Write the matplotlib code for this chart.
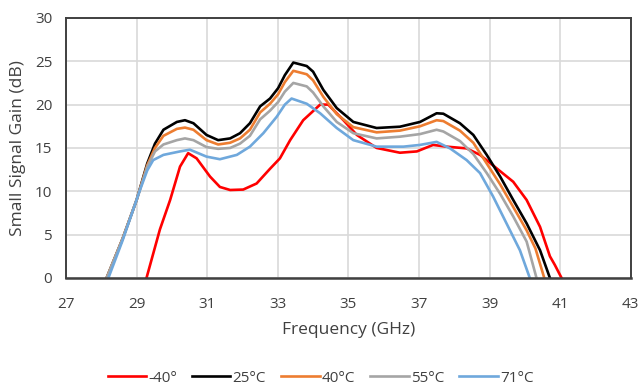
import matplotlib
matplotlib.use("Agg")
import matplotlib.pyplot as plt

f_black = [28.15, 28.6, 29.0, 29.3, 29.52, 29.76, 30.14, 30.37, 30.61, 30.98, 31.31, 31.65, 31.93, 32.21, 32.5, 32.78, 33.01, 33.2, 33.44, 33.82, 34.0, 34.29, 34.67, 35.14, 35.8, 36.46, 37.03, 37.5, 37.69, 38.16, 38.54, 38.92, 39.3, 39.67, 40.05, 40.43, 40.71]
g_black = [0.0, 4.5, 9.0, 13.2, 15.5, 17.1, 18.0, 18.2, 17.85, 16.5, 15.9, 16.1, 16.7, 17.85, 19.8, 20.7, 21.9, 23.4, 24.85, 24.45, 23.8, 21.7, 19.6, 18.0, 17.3, 17.45, 18.0, 19.0, 18.95, 17.85, 16.5, 14.2, 11.7, 9.0, 6.3, 3.2, 0.0]

f_orange = [28.15, 28.6, 29.0, 29.3, 29.52, 29.76, 30.14, 30.37, 30.61, 30.98, 31.31, 31.65, 31.93, 32.21, 32.5, 32.78, 33.01, 33.2, 33.44, 33.82, 34.0, 34.29, 34.67, 35.14, 35.8, 36.46, 37.03, 37.5, 37.69, 38.16, 38.54, 38.92, 39.3, 39.67, 40.05, 40.3, 40.55]
g_orange = [0.0, 4.5, 9.0, 13.0, 15.0, 16.4, 17.2, 17.35, 17.1, 15.9, 15.4, 15.6, 16.1, 17.1, 19.1, 20.1, 21.2, 22.6, 23.9, 23.5, 22.8, 20.9, 18.9, 17.4, 16.8, 17.0, 17.5, 18.2, 18.1, 17.0, 15.6, 13.2, 10.8, 8.2, 5.5, 3.4, 0.0]

f_gray = [28.15, 28.6, 29.0, 29.3, 29.52, 29.76, 30.14, 30.37, 30.61, 30.98, 31.31, 31.65, 31.93, 32.21, 32.5, 32.78, 33.01, 33.2, 33.44, 33.82, 34.0, 34.29, 34.67, 35.14, 35.8, 36.46, 37.03, 37.5, 37.69, 38.16, 38.54, 38.92, 39.3, 39.67, 40.05, 40.33]
g_gray = [0.0, 4.5, 9.0, 12.8, 14.6, 15.4, 15.9, 16.1, 15.9, 15.1, 14.9, 15.0, 15.5, 16.4, 18.3, 19.3, 20.3, 21.5, 22.5, 22.1, 21.4, 19.8, 18.0, 16.7, 16.1, 16.3, 16.6, 17.1, 16.9, 15.8, 14.3, 12.1, 9.7, 7.1, 4.2, 0.0]

f_blue = [28.2, 28.6, 29.1, 29.3, 29.47, 29.76, 30.23, 30.51, 30.98, 31.36, 31.84, 32.21, 32.59, 32.97, 33.2, 33.39, 33.82, 34.2, 34.67, 35.14, 35.8, 36.56, 37.03, 37.5, 37.88, 38.35, 38.73, 39.1, 39.48, 39.86, 40.14]
g_blue = [0.0, 4.3, 10.2, 12.4, 13.6, 14.2, 14.6, 14.8, 14.0, 13.7, 14.2, 15.15, 16.7, 18.6, 20.0, 20.7, 20.1, 19.0, 17.3, 15.9, 15.15, 15.15, 15.35, 15.7, 14.95, 13.6, 12.1, 9.4, 6.3, 3.2, 0.0]

f_red = [29.28, 29.66, 29.95, 30.23, 30.46, 30.7, 31.08, 31.36, 31.65, 32.02, 32.4, 32.78, 33.06, 33.35, 33.72, 34.2, 34.43, 34.86, 35.24, 35.8, 36.46, 36.94, 37.4, 37.78, 38.35, 38.73, 39.2, 39.67, 40.05, 40.43, 40.71, 40.85, 41.04]
g_red = [0.0, 5.6, 9.0, 12.85, 14.4, 13.8, 11.7, 10.5, 10.15, 10.2, 10.9, 12.6, 13.8, 15.9, 18.2, 20.0, 20.0, 18.2, 16.5, 15.0, 14.45, 14.6, 15.35, 15.15, 14.95, 14.2, 12.65, 11.1, 9.0, 5.9, 2.5, 1.5, 0.0]

labels = ["-40°", "25°C", "40°C", "55°C", "71°C"]
x_ticks = [27, 29, 31, 33, 35, 37, 39, 41, 43]
y_ticks = [0, 5, 10, 15, 20, 25, 30]

plt.rcParams['font.family'] = ['Open Sans', 'DejaVu Sans']

fig = plt.figure(figsize=(6.41, 3.87), dpi=100)
ax = fig.add_axes([0.103, 0.2817, 0.881, 0.672])

series = [
    (f_red, g_red, "#FF0000"),
    (f_black, g_black, "#000000"),
    (f_orange, g_orange, "#ED7D31"),
    (f_gray, g_gray, "#A5A5A5"),
    (f_blue, g_blue, "#6FA8DC"),
]
handles = []
for (fx, gy, c), lab in zip(series, labels):
    h, = ax.plot(fx, gy, color=c, lw=1.9, label=lab, solid_joinstyle='round')
    handles.append(h)

ax.set_xlim(27, 43)
ax.set_ylim(0, 30)
ax.set_xticks(x_ticks)
ax.set_yticks(y_ticks)
ax.grid(True, color="#D9D9D9", lw=1.2)
ax.set_axisbelow(True)
for s in ax.spines.values():
    s.set_color("#404040")
    s.set_linewidth(1.4)
ax.spines['bottom'].set_linewidth(1.8)
ax.tick_params(length=0, labelsize=11, colors="#404040")
ax.tick_params(axis='x', pad=14)
ax.tick_params(axis='y', pad=10)
ax.set_xlabel("Frequency (GHz)", fontsize=12.5, color="#404040", labelpad=7)
ax.set_ylabel("Small Signal Gain (dB)", fontsize=12.5, color="#404040", labelpad=6)

fig.legend(handles=handles, labels=labels, loc="center", bbox_to_anchor=(0.5, 0.023),
           ncol=5, frameon=False, fontsize=11, handlelength=2.5, handletextpad=0.15,
           columnspacing=1.0, labelcolor="#404040")

fig.savefig("out.png", dpi=100)
